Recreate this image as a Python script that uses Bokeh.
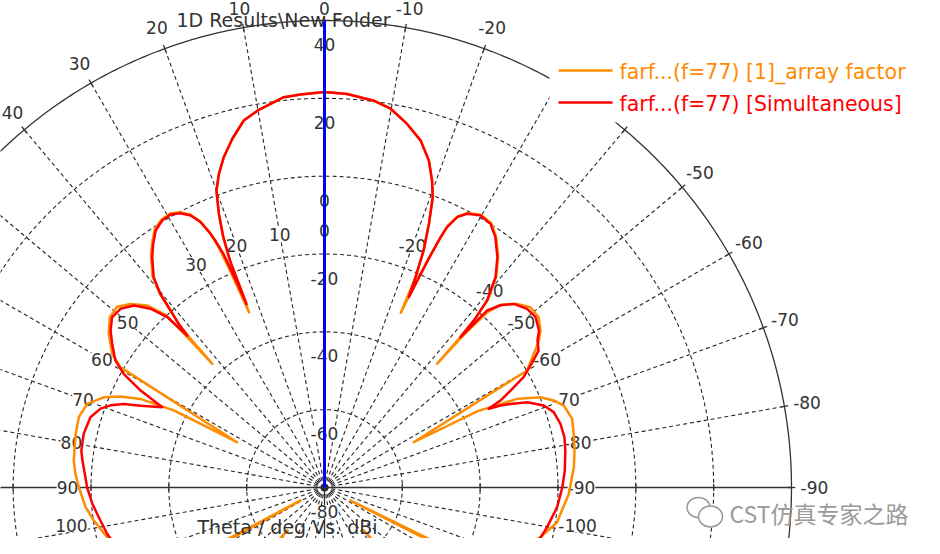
import numpy as np
from bokeh.plotting import figure
from bokeh.models import Range1d
from bokeh.core.properties import value
from bokeh.embed import file_html
from bokeh.resources import INLINE

# ---------------- data (theta in deg, gain in dBi) ----------------
theta_orange = [-180, -160, -145, -137.9, -137.6, -137.3, -134, -127, -121, -117, -116.6, -116.2,
                -114, -112, -109.2, -102.95, -98.5, -96.4, -91.5, -85.3, -81.6, -77.8, -74.5, -71.1,
                -69.2, -67.3, -65.3, -63.5, -63.1, -60, -55.6, -54, -51.5, -48.8, -46.4, -44, -42.9,
                -42.4, -42.3, -42.1, -41.8, -41, -39.1, -36.9, -34.3, -32.2, -29.8, -27.5, -26.15,
                -25.2, -24.9, -24.5, -24.0, -23.6, -23.4, -22.7, -21.6, -20.45, -19.3, -17.7, -15.5,
                -12.8, -9.9, -7.26, -3.3, 0, 3.5, 5.95, 9.87, 12.4, 14.8, 16.96, 18.6, 20, 21.1, 22.0,
                22.6, 22.9, 23.3, 23.5, 23.6, 23.8, 24.2, 25.05, 26.2, 27.7, 29.4, 31.3, 33.3, 35.1,
                36.8, 39.1, 40.3, 41, 41.7, 42.0, 42.2, 42.4, 42.6, 44.25, 46.6, 48.9, 51.6, 54.5,
                57.8, 59.5, 62.6, 62.9, 64.3, 65.96, 67.8, 70.6, 74, 77.8, 83.9, 86.85, 90, 94.7,
                98.1, 102.9, 106.6, 112, 115, 118, 118.4, 118.8, 122, 128, 135, 138.7, 139, 139.4,
                145, 160, 180]
gain_orange = [-40, -38, -42, -55, -65, -55, -40, -35, -37, -42, -72.5, -42,
               -38, -35, -29.4, -23.05, -19.55, -19, -17.2, -15.7, -15.07, -14.5, -13.95, -15,
               -17, -19.85, -25.5, -36, -54.3, -19.9, -13.2, -11.4, -9.7, -9.65, -11.6, -14.7, -18.5,
               -26.5, -37, -28, -22, -16, -10, -5.7, -1.8, 0.3, 0.8, -0.5, -2.4,
               -5.8, -9.0, -15, -22, -31, -21.1, -14, -7.1, -0.4, 3.6, 8.2, 12.5,
               15.8, 18.8, 20.2, 21.3, 21.6, 21.16, 20.83, 18.5, 16.56, 12.7, 8.73, 5.05, 1.2, -4.6, -10.5,
               -16, -22, -31, -22, -17, -12.5, -8.2, -4.4, -1.8, -0.1, 0.8, 0.6, -0.6, -3.0,
               -5.6, -9.9, -14.4, -19.3, -23.5, -28, -37.1, -26, -19.8, -14.7, -11.35, -9.3, -9.6, -11.9,
               -15.5, -19.2, -54.7, -36.5, -27.5, -22.6, -18.7, -15.35, -14.33, -14.6, -15.2, -15.9, -16.9, -18.4,
               -20.1, -22.7, -26.2, -34.5, -37, -44, -73, -44, -38, -35, -40, -55, -65.4, -55,
               -42, -38, -40]

theta_red = [-180, -160, -145, -130, -122, -115, -107.8, -100.1, -94.8, -90, -86, -81.3, -78.2,
             -74.9, -71.8, -69.5, -67.2, -65.8, -65, -64.4, -63.7, -62.5, -61, -59, -57.4, -55.4,
             -53.8, -51.1, -48.6, -45.9, -44, -42.6, -42.1, -41.8, -41, -39.1, -36.9, -34.3, -32.2,
             -29.8, -27.5, -26.15, -25.2, -24.9, -24.5, -24.2, -23.9, -23.4, -22.7, -21.6, -20.45,
             -19.3, -17.7, -15.5, -12.8, -9.9, -7.26, -3.3, 0, 3.5, 5.95, 9.87, 12.4, 14.8, 16.96,
             18.6, 20, 21.1, 22.0, 22.6, 23.0, 23.2, 23.4, 23.8, 24.2, 25.05, 26.2, 27.7, 29.4, 31.3,
             33.3, 35.1, 36.8, 39.1, 40.3, 41, 41.7, 42.1, 42.7, 44.2, 46.3, 48.8, 51.3, 53.7, 55.9,
             58.7, 60.5, 62.2, 63.7, 66, 67.4, 69, 70.6, 73.3, 77.4, 81.35, 83.6, 87.5, 90, 94, 97.5,
             102, 108, 115, 122, 130, 145, 160, 180]
gain_red = [-34, -32, -30, -33, -36, -29, -24.4, -21.9, -20, -18.9, -18.1, -17.4, -17,
            -17.2, -18, -19.85, -23.5, -27.6, -30.1, -33.2, -29.6, -26.1, -21.5, -17.8, -14.7, -13.5,
            -11.7, -10.3, -10.6, -12.2, -14.9, -18.2, -27.9, -22.4, -16.3, -10.3, -6.0, -2.1, 0.06,
            0.58, -0.7, -2.6, -6.05, -9.1, -15, -21, -26.5, -21.1, -14, -7.1, -0.4,
            3.6, 8.2, 12.5, 15.8, 18.8, 20.2, 21.3, 21.6, 21.16, 20.83, 18.5, 16.56, 12.7, 8.73,
            5.05, 1.2, -4.6, -10.5, -17, -28.8, -21, -14.5, -11, -8.5, -4.7, -2.1, -0.4, 0.5, 0.3,
            -1.0, -3.45, -6.1, -10.4, -14.8, -19.7, -23.7, -27.4, -20.4, -15.9, -12.3, -10.3, -10.05, -11.8, -14.1,
            -17.1, -20.7, -26.6, -33.5, -28.3, -24.1, -21.1, -19, -17.2, -16.6, -16.8, -17.4, -18.5, -19, -20.2, -21.5,
            -22.9, -24.9, -29, -36, -33, -30, -32, -34]

grid_db = [-60, -40, -20, 0, 20]
r_ticks = [40, 20, 0, -20, -40, -60, -80]
r_tick_labels = ["40", "20", "0", "-20", "-40", "-60", "-80"]
outer_angles = [0, 10, 20, 30, 40, -10, -20, -50, -60, -70, -80, -90]
inner_angles = [0, 10, 20, 30, 50, 60, 70, 80, 90, 100, -20, -40, -50, -60, -70, -80, -90, -100]
spoke_angles = list(range(-170, 181, 10))
series_names = ["farf...(f=77) [1]_array factor", "farf...(f=77) [Simultaneous]"]
title_text = "1D Results\\New Folder"
axis_text = "Theta / deg Vs. dBi"
watermark_text = "CST仿真专家之路"
DB_MIN, DB_MAX = -80.0, 40.0

# ---------------- layout ----------------
W, H = 924, 538
PX = 467.0 / (DB_MAX - DB_MIN)      # screen px per dB
CX, CY = 324.0, 487.0               # polar centre (px from the top-left of the figure)


def to_data(X, Y):
    return (X - CX) / PX, (CY - Y) / PX


def polar(theta, db):
    th = np.radians(np.asarray(theta, float))
    r = np.clip(np.asarray(db, float) - DB_MIN, 0, None)
    return -r * np.sin(th), r * np.cos(th)


xa, ytop = to_data(0, 0)
xb, ybot = to_data(W, H)
p = figure(width=W, height=H, x_range=Range1d(xa, xb), y_range=Range1d(ybot, ytop),
           output_backend="svg", toolbar_location=None, min_border=0,
           x_axis_location=None, y_axis_location=None, outline_line_color=None,
           background_fill_color="white", border_fill_color="white")
p.xgrid.visible = False
p.ygrid.visible = False

FONT = value("DejaVu Sans")
GRID = "#262626"

# dashed circles
th = np.linspace(-180, 180, 721)
xs, ys = [], []
for d in grid_db:
    x, y = polar(th, np.full_like(th, d))
    xs.append(list(x)); ys.append(list(y))
p.multi_line(xs, ys, line_color=GRID, line_width=1.1, line_dash="4 3")

# dashed spokes
xs, ys = [], []
for a in spoke_angles:
    if a in (90, -90, 0, 180):
        continue
    x, y = polar([a, a], [DB_MIN, DB_MAX])
    xs.append(list(x)); ys.append(list(y))
p.multi_line(xs, ys, line_color=GRID, line_width=1.1, line_dash="4 3")

# solid outer circle and axes
x, y = polar(th, np.full_like(th, DB_MAX))
p.line(x, y, line_color="#333333", line_width=1.3)
x, y = polar([90, -90], [DB_MAX, DB_MAX])
p.line([x[0], 0, x[1]], [y[0], 0, y[1]], line_color="#333333", line_width=1.3)
x, y = polar([180], [DB_MAX])
p.line([0, x[0]], [0, y[0]], line_color="#333333", line_width=1.3)

# ticks on the outer circle and on the horizontal axis
xs, ys = [], []
for a in spoke_angles:
    x, y = polar([a, a], [DB_MAX - 1.0, DB_MAX + 1.0])
    xs.append(list(x)); ys.append(list(y))
for d in grid_db:
    r = d - DB_MIN
    for sgn in (-1, 1):
        xs.append([sgn * r, sgn * r]); ys.append([-0.9, 0.9])
p.multi_line(xs, ys, line_color="#333333", line_width=1.3)

ylow = ybot + 13 / PX      # keep label centres inside the picture

# radial labels along the vertical axis
p.text(x=[0] * len(r_ticks), y=[(d - DB_MIN) - 24 / PX for d in r_ticks], text=r_tick_labels,
       text_align="center", text_baseline="middle", text_font=FONT, text_font_size="17px",
       text_color="#333333", background_fill_color="white")

# inner angle labels
ix, iy = polar(inner_angles, [257 / PX + DB_MIN] * len(inner_angles))
iy = np.maximum(iy, ylow)
p.text(x=list(ix), y=list(iy), text=[str(a) for a in inner_angles],
       text_align="center", text_baseline="middle", text_font=FONT, text_font_size="17px",
       text_color="#333333", background_fill_color="white")

# outer angle labels
ox, oy = polar(outer_angles, [490 / PX + DB_MIN] * len(outer_angles))
oy = np.minimum(oy, ytop - 8 / PX)
ox = np.maximum(ox, xa + 12 / PX)
p.text(x=list(ox), y=list(oy), text=[str(a) for a in outer_angles],
       text_align="center", text_baseline="middle", text_font=FONT, text_font_size="17px",
       text_color="#333333")

# pattern curves
xo, yo = polar(theta_orange, gain_orange)
p.line(xo, yo, line_color="#FF8C00", line_width=2.5, line_join="round")
xr, yr = polar(theta_red, gain_red)
p.line(xr, yr, line_color="#FF0000", line_width=2.5, line_join="round")

# blue marker at theta = 0
x, y = polar([0], [DB_MAX])
p.line([0, x[0]], [0, y[0]], line_color="#0000FF", line_width=3)

# legend (white box, sample lines, coloured labels)
lx0, ly0 = to_data(549, 50)
lx1, ly1 = to_data(W, 122)
p.quad(left=lx0, right=lx1, top=ly0, bottom=ly1, fill_color="white", line_color=None)
colors = ["#FF8C00", "#FF0000"]
for i, (name, c) in enumerate(zip(series_names, colors)):
    ya_px = 70 + 32 * i
    sx0, sy = to_data(558, ya_px)
    sx1, _ = to_data(612, ya_px)
    p.line([sx0, sx1], [sy, sy], line_color=c, line_width=2.5)
    tx, ty = to_data(619, ya_px + 1)
    p.text(x=[tx], y=[ty], text=[name], text_align="left", text_baseline="middle",
           text_font=FONT, text_font_size="20.5px", text_color=c)

# title and axis caption
tx, ty = to_data(283, 19)
p.text(x=[tx], y=[ty], text=[title_text], text_align="center", text_baseline="middle",
       text_font=FONT, text_font_size="19px", text_color="#333333")
tx, ty = to_data(287, H - 12)
p.text(x=[tx], y=[ty], text=[axis_text], text_align="center", text_baseline="middle",
       text_font=FONT, text_font_size="19px", text_color="#333333")

# watermark
ex, ey = to_data(698, 507)
p.ellipse(x=[ex], y=[ey], width=23 / PX, height=20 / PX, fill_color="white",
          line_color="#9a9a9a", line_width=1.5)
ex2, ey2 = to_data(710, 516)
p.ellipse(x=[ex2], y=[ey2], width=24 / PX, height=21 / PX, fill_color="white",
          line_color="#9a9a9a", line_width=1.5)
tx, ty = to_data(729, 512)
p.text(x=[tx], y=[ty], text=[watermark_text], text_align="left", text_baseline="middle",
       text_font=value("Noto Sans CJK SC"), text_font_size="23px", text_color="#9a9a9a")

open("out.html", "w").write(file_html(p, INLINE))
